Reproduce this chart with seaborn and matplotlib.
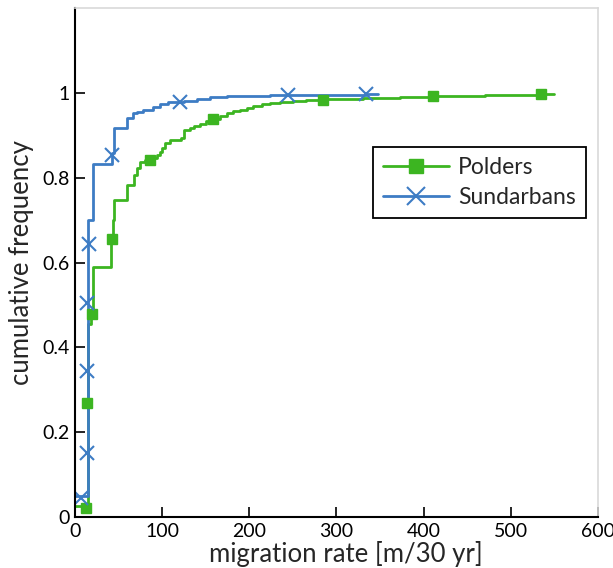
import matplotlib
matplotlib.use('Agg')
import matplotlib.pyplot as plt
import seaborn as sns
import pandas as pd
from matplotlib.lines import Line2D

sns.set_style('white')
plt.rcParams['font.family'] = ['Lato', 'DejaVu Sans']

polders_x = [0, 14.6, 18, 20.5, 41.5, 43.5, 44.5, 60, 67.7, 70.7, 74.5, 80, 88, 93.7,
             97, 99.4, 103, 109, 122, 125, 132, 137, 143, 150, 158, 166, 174, 181,
             189, 197, 204.5, 214, 223.7, 235, 250, 265, 280, 300, 330, 373, 410,
             470, 535, 549]
polders_y = [0.025, 0.456, 0.47, 0.59, 0.655, 0.70, 0.748, 0.783, 0.807, 0.822, 0.838,
             0.842, 0.846, 0.854, 0.862, 0.870, 0.881, 0.889, 0.893, 0.913, 0.917,
             0.922, 0.928, 0.933, 0.938, 0.945, 0.952, 0.957, 0.961, 0.965, 0.969,
             0.973, 0.977, 0.980, 0.982, 0.984, 0.985, 0.987, 0.989, 0.991, 0.993,
             0.995, 0.997, 0.997]
sund_x = [0, 14.6, 21, 42.3, 44.7, 59.3, 67, 71, 78.4, 89.8, 97.5, 107, 115, 125,
          139.6, 155, 174, 223.7, 280, 334, 348]
sund_y = [0.05, 0.70, 0.833, 0.858, 0.917, 0.94, 0.952, 0.955, 0.961, 0.968, 0.974,
          0.978, 0.980, 0.982, 0.987, 0.990, 0.993, 0.995, 0.996, 0.997, 0.997]

# marker positions
polders_mx = [13, 14, 20, 43, 86, 158, 284, 411, 535]
polders_my = [0.022, 0.268, 0.478, 0.655, 0.842, 0.939, 0.984, 0.993, 0.997]
sund_mx = [7, 14, 14, 14, 16, 42, 121, 244, 334]
sund_my = [0.045, 0.15, 0.345, 0.505, 0.645, 0.855, 0.979, 0.995, 0.997]

green = '#3cb521'
blue = '#3d7cc4'

fig = plt.figure(figsize=(6.13, 5.68), dpi=100)
ax = fig.add_axes([0.1223, 0.0898, 0.8532, 0.8957])

pol = pd.DataFrame({'x': polders_x, 'y': polders_y})
sun = pd.DataFrame({'x': sund_x, 'y': sund_y})
sns.lineplot(data=pol, x='x', y='y', ax=ax, color=green, lw=2, drawstyle='steps-post',
             estimator=None, sort=False)
sns.lineplot(data=sun, x='x', y='y', ax=ax, color=blue, lw=2, drawstyle='steps-post',
             estimator=None, sort=False)
ax.plot(polders_mx, polders_my, ls='none', marker='s', ms=7.5, color=green)
ax.plot(sund_mx, sund_my, ls='none', marker='x', ms=9.5, mew=1.5, color=blue)

ax.set_xlim(0, 600)
ax.set_ylim(0, 1.2)
ax.set_xticks([0, 100, 200, 300, 400, 500, 600])
ax.set_yticks([0, 0.2, 0.4, 0.6, 0.8, 1])
ax.set_yticklabels(['0', '0.2', '0.4', '0.6', '0.8', '1'])
ax.tick_params(direction='in', length=7, width=1.2, labelsize=14, colors='black',
               left=True, bottom=True, pad=4)
ax.set_xlabel('migration rate [m/30 yr]', fontsize=18.5)
ax.xaxis.set_label_coords(0.518, -0.047)
ax.set_ylabel('cumulative frequency', fontsize=18.5, labelpad=6)

for s in ['left', 'bottom']:
    ax.spines[s].set_color('black')
    ax.spines[s].set_linewidth(1.5)
for s in ['right', 'top']:
    ax.spines[s].set_color('#d9d9d9')
    ax.spines[s].set_linewidth(1.2)

handles = [Line2D([], [], color=green, lw=2, marker='s', ms=10),
           Line2D([], [], color=blue, lw=2, marker='x', ms=12.5, mew=1.5)]
leg = ax.legend(handles, ['Polders', 'Sundarbans'], loc='upper right',
                bbox_to_anchor=(0.977, 0.728), fontsize=16.5, frameon=True,
                fancybox=False, edgecolor='black', framealpha=1, handlelength=2.85,
                handletextpad=0.4, borderpad=0.45, labelspacing=0.4, borderaxespad=0)
leg.get_frame().set_linewidth(1.3)

fig.savefig('out.png', dpi=100)
